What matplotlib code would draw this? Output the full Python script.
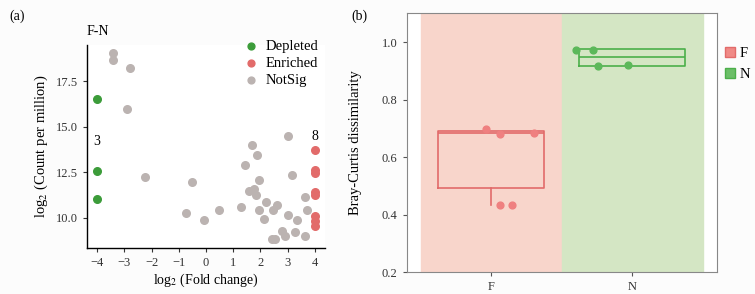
import matplotlib.pyplot as plt
from matplotlib.patches import Patch

plt.rcParams['font.family'] = ['Liberation Serif', 'DejaVu Serif']
plt.rcParams['mathtext.fontset'] = 'stix'

# panel (a): volcano-like plot F-N
dep_x = [-4, -4, -4]
dep_y = [16.55, 12.6, 11.04]
enr_x = [4, 4, 4, 4, 4, 4, 4, 4]
enr_y = [13.74, 12.65, 12.45, 11.45, 11.25, 10.1, 9.85, 9.55]
ns_x = [-3.43, -3.43, -2.80, -2.90, -2.23, -0.50, -0.73, -0.08, 0.47, 1.30,
        1.43, 1.68, 1.86, 1.96, 1.59, 1.78, 1.85, 1.96, 2.21, 2.12, 2.45,
        2.61, 2.41, 2.54, 2.79, 2.89, 3.00, 3.01, 3.16, 3.35, 3.27, 3.62,
        3.63, 3.72]
ns_y = [19.08, 18.66, 18.23, 16.0, 12.26, 11.98, 10.27, 9.87, 10.44, 10.62,
        12.9, 14.0, 13.43, 12.09, 11.5, 11.6, 11.26, 10.44, 10.88, 9.94, 10.42,
        10.69, 8.84, 8.82, 9.26, 8.99, 14.49, 10.14, 12.34, 9.87, 9.21, 8.99,
        11.15, 10.44]

# panel (b): Bray-Curtis dissimilarity
groups = ['F', 'N']
f_vals = [0.697, 0.68, 0.683, 0.435, 0.435]
f_jit = [-0.035, 0.064, 0.30, 0.064, 0.146]
n_vals = [0.971, 0.973, 0.918, 0.920]
n_jit = [-0.40, -0.28, -0.24, -0.03]
f_box = dict(q1=0.493, med=0.683, q3=0.692, whislo=0.435, whishi=0.692)
n_box = dict(q1=0.918, med=0.948, q3=0.975, whislo=0.918, whishi=0.975)

c_green = '#3c9c3a'
c_red = '#e26b6a'
c_gray = '#bbb3b1'

fig = plt.figure(figsize=(7.55, 2.94), dpi=100)

# ---- (a)
ax = fig.add_axes([0.1152, 0.1565, 0.3153, 0.6905])
ax.scatter(dep_x, dep_y, s=30, color=c_green, label='Depleted', zorder=3)
ax.scatter(enr_x, enr_y, s=30, color=c_red, label='Enriched', zorder=3)
ax.scatter(ns_x, ns_y, s=30, color=c_gray, label='NotSig', zorder=2)
ax.text(-4, 14.2, str(len(dep_x)), ha='center', va='center', fontsize=10)
ax.text(4, 14.45, str(len(enr_x)), ha='center', va='center', fontsize=10)
ax.set_xlim(-4.37, 4.37)
ax.set_ylim(8.35, 19.5)
ax.set_xticks(range(-4, 5))
ax.set_xticklabels(['\u2212' + str(-v) if v < 0 else str(v) for v in range(-4, 5)])
ax.set_yticks([10.0, 12.5, 15.0, 17.5])
ax.set_yticklabels(['10.0', '12.5', '15.0', '17.5'])
ax.tick_params(labelsize=9, length=3, color='#333333', labelcolor='#333333')
for sp in ['top', 'right']:
    ax.spines[sp].set_visible(False)
for sp in ['left', 'bottom']:
    ax.spines[sp].set_linewidth(1.0)
ax.set_xlabel('log$_2$ (Fold change)', fontsize=10, labelpad=2)
ax.set_ylabel('log$_2$ (Count per million)', fontsize=10.5, labelpad=4)
ax.text(-4.37, 19.9, 'F-N', ha='left', va='bottom', fontsize=10)
ax.legend(loc='upper right', bbox_to_anchor=(1.015, 1.075), frameon=False,
          fontsize=10.5, handletextpad=0.0, labelspacing=0.25, borderpad=0.2,
          markerscale=0.9)
fig.text(0.012, 0.945, '(a)', fontsize=10, va='center')

# ---- (b)
bx = fig.add_axes([0.5387, 0.0738, 0.4106, 0.881])
bx.axvspan(-0.5, 0.5, color='#f8d5cb', zorder=0)
bx.axvspan(0.5, 1.5, color='#d4e6c4', zorder=0)
stats = [f_box, n_box]
cols = [c_red, '#4caf4a']
for i, (st, col) in enumerate(zip(stats, cols)):
    bx.bxp([st], positions=[i], widths=0.75, showfliers=False, showcaps=False,
           boxprops=dict(color=col, linewidth=1.2),
           medianprops=dict(color=col, linewidth=1.2),
           whiskerprops=dict(color=col, linewidth=1.2), zorder=2)
bx.scatter([0 + j for j in f_jit], f_vals, s=24, color='#ef8080', zorder=3)
bx.scatter([1 + j for j in n_jit], n_vals, s=24, color='#5cb85a', zorder=3)
bx.set_xlim(-0.6, 1.6)
bx.set_ylim(0.2, 1.1)
bx.set_xticks([0, 1])
bx.set_xticklabels(groups)
bx.set_yticks([0.2, 0.4, 0.6, 0.8, 1.0])
bx.set_yticklabels(['0.2', '0.4', '0.6', '0.8', '1.0'])
bx.tick_params(labelsize=9, length=3, color='#555555', labelcolor='#333333')
for sp in bx.spines.values():
    sp.set_color('#888888')
    sp.set_linewidth(0.8)
bx.set_ylabel('Bray-Curtis dissimilarity', fontsize=10.5, labelpad=14)
handles = [Patch(facecolor='#f08a86', edgecolor=c_red, label='F'),
           Patch(facecolor='#6cbf68', edgecolor='#4caf4a', label='N')]
bx.legend(handles=handles, loc='upper left', bbox_to_anchor=(0.985, 0.92),
          frameon=False, fontsize=10.5, handlelength=0.7, handleheight=0.7,
          handletextpad=0.3, labelspacing=0.5)
fig.text(0.466, 0.945, '(b)', fontsize=10, va='center')

fig.savefig('out.png', dpi=100, facecolor='#fcfcfc')
